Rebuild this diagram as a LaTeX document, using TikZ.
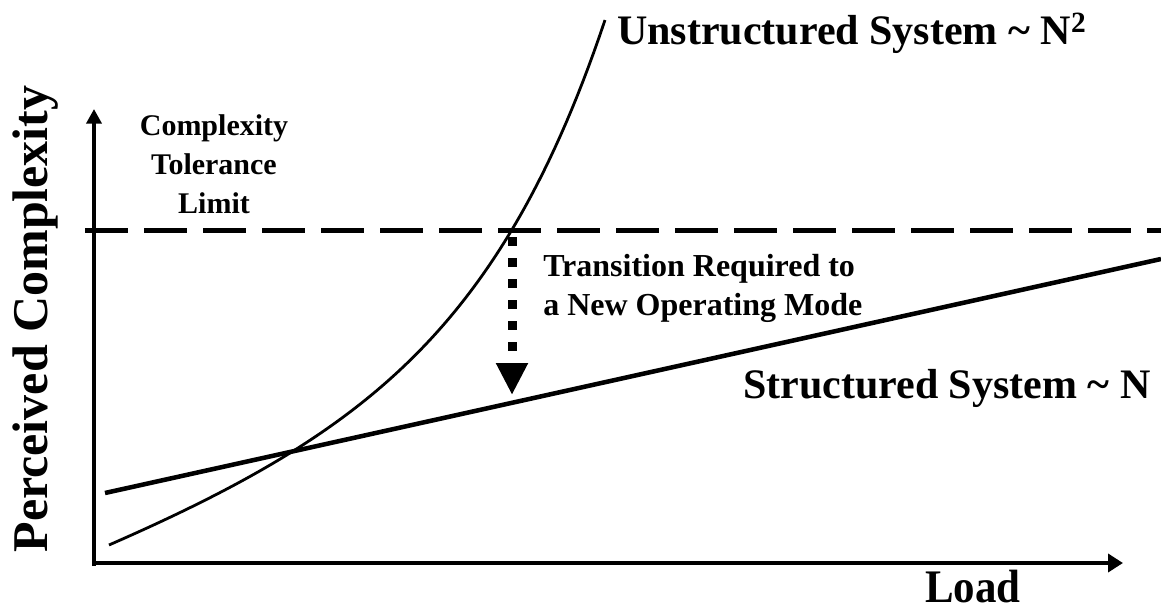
\documentclass[tikz,border=0pt]{standalone}
\usepackage{fontspec}
\setmainfont{Liberation Serif}
\usetikzlibrary{arrows.meta}

\tikzset{
  axisline/.style={line width=3pt, -{Triangle[width=11.25pt,length=11pt]}},
  curveline/.style={line width=2.1pt, line join=round},
  limitline/.style={line width=3.75pt, dash pattern=on 32.25pt off 12pt},
  lbl/.style={inner sep=0pt, font=\bfseries},
}

\begin{document}
\begin{tikzpicture}[x=0.75pt,y=0.75pt,yscale=-1,xscale=1]
\useasboundingbox (0,0) rectangle (1161,610); %set diagram to the size of the reference

%Coordinates of the axes and lines
\coordinate (yfoot) at (94,566);
\coordinate (ytip) at (94,109);
\coordinate (xfoot) at (92,563);
\coordinate (xtip) at (1123,563);
\coordinate (limL) at (85,230);
\coordinate (limR) at (1161,230);
\coordinate (strL) at (105,493);
\coordinate (strR) at (1161,259);
\coordinate (jumpTop) at (512,237);
\coordinate (jumpTip) at (512,395);

%Axes
\draw [axisline] (yfoot) -- (ytip);
\draw [axisline, -{Triangle[width=13.5pt,length=11.25pt]}] (xfoot) -- (xtip);

%Dashed line: tolerance limit
\draw [limitline] (limL) -- (limR);

%Structured system ~ N
\draw [line width=3.4pt] (strL) -- (strR);

%Unstructured system ~ N^2
\draw [curveline] plot [domain=109:605, samples=90] (\x, {545 - 0.374*(\x-109) - 8.4*(exp(0.0075*(\x-109))-1)});

%Dotted arrow: transition
\draw [line width=6.75pt, dash pattern=on 6.75pt off 9pt, -{Triangle[width=22.5pt,length=24pt]}] (jumpTop) -- (jumpTip);

% Text Node
\node (ylab) [lbl, rotate=90, anchor=base, font=\bfseries\fontsize{37.5pt}{45pt}\selectfont] at (47,319) {Perceived Complexity};
% Text Node
\node (xlab) [lbl, anchor=base west, xscale=0.92, font=\bfseries\fontsize{35pt}{42pt}\selectfont] at (925,602) {Load};
% Text Node
\node (limlab) [lbl, anchor=base, align=center, font=\bfseries\fontsize{22.5pt}{29.25pt}\selectfont] at (214,213) {Complexity\\Tolerance\\Limit};
% Text Node
\node (translab) [lbl, anchor=base west, align=left, font=\bfseries\fontsize{24pt}{29.25pt}\selectfont] at (543,315) {Transition Required to\\a New Operating Mode};
% Text Node
\node (unslab) [lbl, anchor=base west, font=\bfseries\fontsize{31.5pt}{38pt}\selectfont] at (617,45) {Unstructured System \textasciitilde{} N\textsuperscript{2}};
% Text Node
\node (strlab) [lbl, anchor=base west, font=\bfseries\fontsize{31.5pt}{38pt}\selectfont] at (743,398) {Structured System \textasciitilde{} N};

\end{tikzpicture}
\end{document}
